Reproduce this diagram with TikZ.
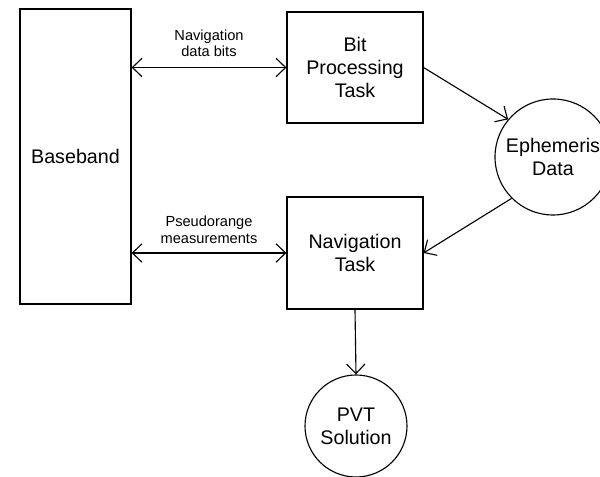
\documentclass[tikz,border=0pt]{standalone}
\usepackage{fontspec}
\setmainfont{Liberation Sans}
\usepackage{tikz}
\usetikzlibrary{arrows.meta,calc,positioning}
\tikzset{
  bloque/.style={
    draw=black,
    line width=0.8pt,
    align=center,
    inner sep=2pt,
    font=\fontsize{14}{16.6}\selectfont
  },
  dato/.style={
    circle,
    draw=black,
    line width=0.8pt,
    align=center,
    inner sep=0pt,
    font=\fontsize{14}{16.6}\selectfont
  },
  etiqueta/.style={
    align=center,
    inner sep=1pt,
    font=\fontsize{10.4}{12}\selectfont
  },
  arrow/.style={
    -{Straight Barb[length=2.4mm,width=4.6mm]},
    line width=0.8pt
  },
  darrow/.style={
    {Straight Barb[length=2.4mm,width=4.6mm]}-{Straight Barb[length=2.4mm,width=4.6mm]},
    line width=0.8pt
  }
}
\begin{document}
\begin{tikzpicture}
\useasboundingbox (0,0) rectangle (15,11.925);
\node[bloque, minimum width=2.775cm, minimum height=7.375cm] (base) at (1.8875,8.0125) {Baseband};
\node[bloque, minimum width=3.4cm, minimum height=2.775cm] (bit) at (8.875,10.2375) {Bit\\Processing\\Task};
\node[bloque, minimum width=3.4cm, minimum height=2.8cm] (nav) at (8.875,5.6) {Navigation\\Task};
\node[dato, minimum size=2.9cm] (eph) at (13.825,8.0) {Ephemeris\\Data};
\node[dato, minimum size=2.55cm] (pvt) at (8.9,1.275) {PVT\\Solution};
\draw[darrow] (base.east |- bit.west) -- node[etiqueta, above=6pt] (lbits) {Navigation\\data bits} (bit.west);
\draw[darrow] (base.east |- nav.west) -- node[etiqueta, above=5pt] (lmeas) {Pseudorange\\measurements} (nav.west);
\draw[arrow] (bit.east) -- (eph.140);
\draw[arrow] (eph.225) -- (nav.east);
\draw[arrow] (nav.south) -- (pvt.north);
\end{tikzpicture}
\end{document}
